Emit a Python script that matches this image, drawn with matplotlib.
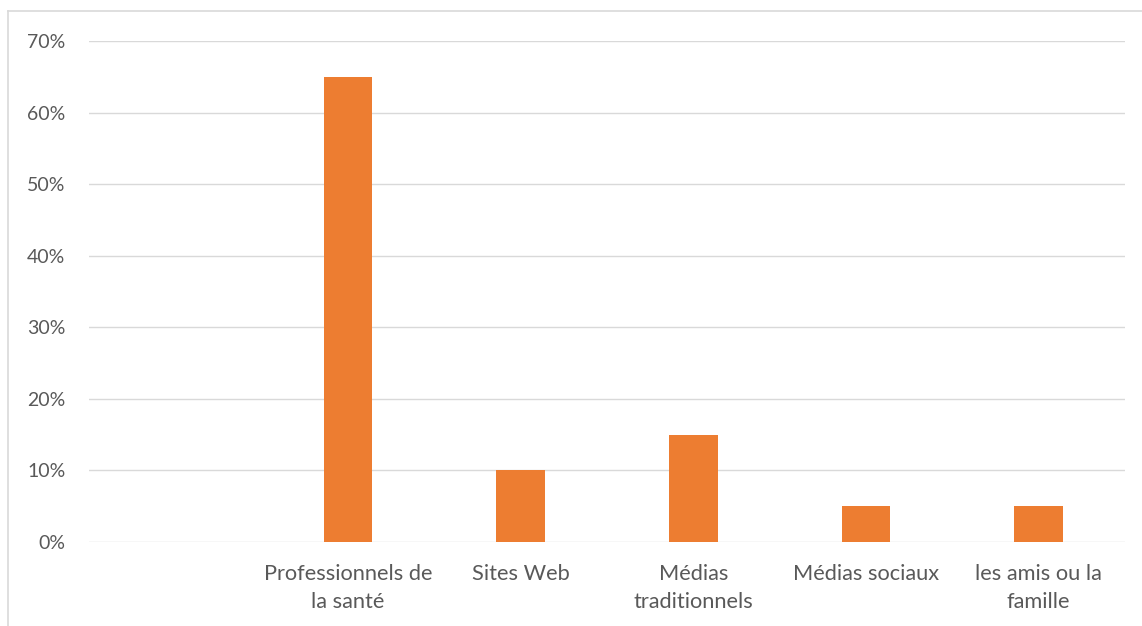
import matplotlib
matplotlib.use('Agg')
import matplotlib.pyplot as plt
from matplotlib.lines import Line2D
from matplotlib.ticker import PercentFormatter

# data
categories = ['', 'Professionnels de\nla santé', 'Sites Web', 'Médias\ntraditionnels',
              'Médias sociaux', 'les amis ou la\nfamille']
values = [None, 0.65, 0.10, 0.15, 0.05, 0.05]
y_ticks = [0.0, 0.1, 0.2, 0.3, 0.4, 0.5, 0.6, 0.7]

BAR_COLOR = '#ED7D31'
TEXT_COLOR = '#595959'
GRID_COLOR = '#D9D9D9'

plt.rcParams['font.family'] = ['Lato', 'DejaVu Sans']

fig = plt.figure(figsize=(11.42, 6.26), dpi=100)
ax = fig.add_axes([89 / 1142, 1 - 542 / 626, (1125 - 89) / 1142, (542 - 41) / 626])

xs = list(range(len(categories)))
heights = [v if v is not None else 0 for v in values]
ax.bar(xs, heights, width=0.28, color=BAR_COLOR, zorder=3)

ax.set_xlim(-0.5, len(categories) - 0.5)
ax.set_ylim(0, 0.7)
ax.set_yticks(y_ticks)
ax.yaxis.set_major_formatter(PercentFormatter(1.0, decimals=0))
ax.set_xticks(xs)
ax.set_xticklabels(categories, linespacing=1.5)

ax.grid(axis='y', color=GRID_COLOR, linewidth=1.0, zorder=0)
for s in ax.spines.values():
    s.set_visible(False)
ax.tick_params(length=0, colors=TEXT_COLOR)
ax.tick_params(axis='y', pad=17, labelsize=14)
ax.tick_params(axis='x', pad=15.5, labelsize=15.7)

# chart-area border (left and top edges visible)
fig.add_artist(Line2D([8 / 1142, 8 / 1142], [0, 1 - 11 / 626],
                      transform=fig.transFigure, color=GRID_COLOR, linewidth=1.2))
fig.add_artist(Line2D([8 / 1142, 1], [1 - 11 / 626, 1 - 11 / 626],
                      transform=fig.transFigure, color=GRID_COLOR, linewidth=1.2))

fig.savefig('out.png', dpi=100, facecolor='white')
